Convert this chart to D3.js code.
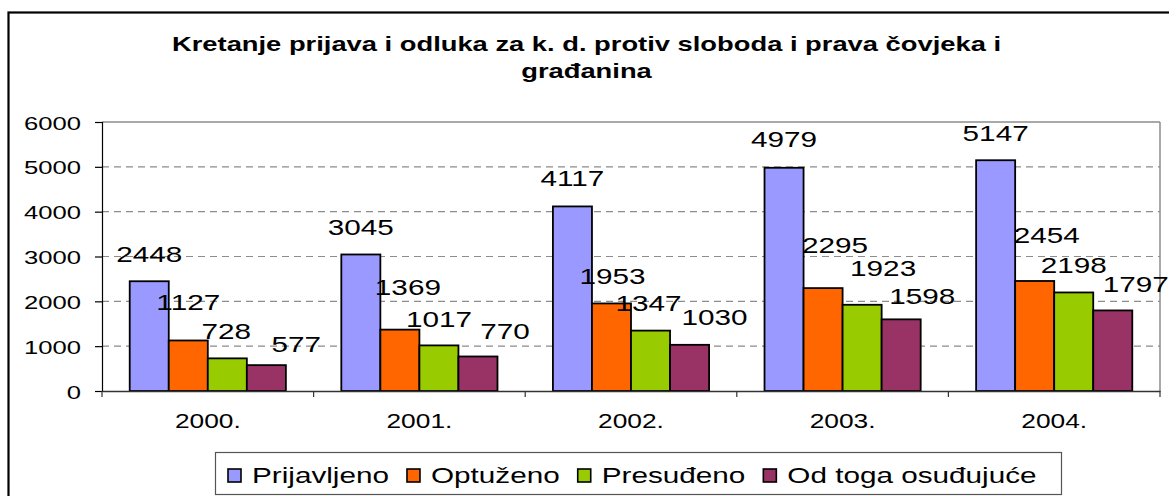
<!DOCTYPE html>
<html>
<head>
<meta charset="utf-8">
<script src="https://cdn.jsdelivr.net/npm/d3@7"></script>
<style>
  html, body { margin: 0; padding: 0; background: #fff; }
  svg { display: block; font-family: "Liberation Sans", Arial, Helvetica, sans-serif; }
</style>
</head>
<body>
<svg id="chart" width="1169" height="496"></svg>
<script>
const titleLines = ["Kretanje prijava i odluka za k. d. protiv sloboda i prava čovjeka i", "građanina"];
const categories = ["2000.", "2001.", "2002.", "2003.", "2004."];
const seriesNames = ["Prijavljeno", "Optuženo", "Presuđeno", "Od toga osuđujuće"];
const prijavljeno = [2448, 3045, 4117, 4979, 5147];
const optuzeno = [1127, 1369, 1953, 2295, 2454];
const presudeno = [728, 1017, 1347, 1923, 2198];
const osudjujuce = [577, 770, 1030, 1598, 1797];
const yTicks = [0, 1000, 2000, 3000, 4000, 5000, 6000];
const seriesColors = ["#9999FF", "#FF6600", "#99CC00", "#993366"];

// layout: manual label nudges seen in the original (per category, per series), in px
const labelDx = [[0, 0, -1, 30], [0, 8, 0, 27], [0, 1, -2, 25], [0, 12, 21, 21], [0, 12, 0, 23]];
const labelDy = [[-19, -30, -19.4, -13.4], [-19.5, -34.6, -18.7, -17], [-20.7, -19.1, -19.6, -19.8],
                 [-20.8, -35, -28.8, -15.4], [-19.5, -37.7, -19.8, -18.7]];

const seriesValues = [prijavljeno, optuzeno, presudeno, osudjujuce];
const SX = 1.35; // horizontal stretch of the original picture's text

const svg = d3.select("#chart");
const plot = { left: 102, right: 1160, top: 122, bottom: 391 };

// outer border
svg.append("rect")
  .attr("x", 8.5).attr("y", 12.5).attr("width", 1200).attr("height", 600)
  .attr("fill", "none").attr("stroke", "#000").attr("stroke-width", 2.2);

// title
titleLines.forEach((t, i) => {
  svg.append("text")
    .attr("transform", `translate(586.5,${51 + i * 27}) scale(1.367,1)`)
    .attr("text-anchor", "middle")
    .attr("font-size", 20)
    .attr("font-weight", "bold")
    .attr("fill", "#000")
    .text(t);
});

const x0 = d3.scaleBand().domain(categories).range([plot.left, plot.right]).padding(0);
const bw = x0.bandwidth();
const gpad = bw * 0.131;
const x1 = d3.scaleBand().domain(seriesNames).range([gpad, bw - gpad]).padding(0);
const y = d3.scaleLinear().domain([0, 6000]).range([plot.bottom, plot.top]);

// gridlines
svg.append("g").selectAll("line")
  .data(yTicks.filter(d => d > 0 && d < 6000))
  .join("line")
  .attr("x1", plot.left).attr("x2", plot.right)
  .attr("y1", d => y(d)).attr("y2", d => y(d))
  .attr("stroke", "#8c8c8c").attr("stroke-width", 1.2)
  .attr("stroke-dasharray", "7,5");

// plot frame top/right
svg.append("line")
  .attr("x1", plot.left).attr("x2", plot.right)
  .attr("y1", y(6000)).attr("y2", y(6000))
  .attr("stroke", "#8c8c8c").attr("stroke-width", 1.5);
svg.append("line")
  .attr("x1", plot.right).attr("x2", plot.right)
  .attr("y1", y(6000)).attr("y2", plot.bottom)
  .attr("stroke", "#8c8c8c").attr("stroke-width", 1.5);

// bars
const rows = categories.map((c, i) => ({
  cat: c, i,
  vals: seriesNames.map((s, j) => ({ s, j, i, v: seriesValues[j][i] }))
}));
const groups = svg.append("g").selectAll("g")
  .data(rows).join("g")
  .attr("transform", d => `translate(${x0(d.cat)},0)`);
groups.selectAll("rect")
  .data(d => d.vals).join("rect")
  .attr("x", d => x1(d.s))
  .attr("y", d => y(d.v))
  .attr("width", x1.bandwidth())
  .attr("height", d => y(0) - y(d.v))
  .attr("fill", d => seriesColors[d.j])
  .attr("stroke", "#000").attr("stroke-width", 1.8);

// y axis
const yAxis = svg.append("g")
  .attr("transform", `translate(${plot.left},0)`)
  .call(d3.axisLeft(y).tickValues(yTicks).tickSize(7).tickFormat(d3.format("d")));
yAxis.select(".domain").attr("stroke", "#000").attr("stroke-width", 1.2);
yAxis.selectAll(".tick line").attr("stroke", "#000").attr("stroke-width", 1.2);
yAxis.selectAll(".tick text")
  .attr("x", null).attr("dy", null)
  .attr("transform", `translate(-21,7) scale(${SX},1)`)
  .attr("font-size", 19).attr("fill", "#000")
  .attr("font-family", "Liberation Sans, Arial, sans-serif");

// x axis
const xAxis = svg.append("g")
  .attr("transform", `translate(0,${plot.bottom})`)
  .call(d3.axisBottom(x0).tickSize(0).tickPadding(0));
xAxis.select(".domain").attr("stroke", "#333").attr("stroke-width", 1.5);
xAxis.selectAll(".tick text")
  .attr("y", null).attr("dy", null)
  .attr("transform", `translate(0,37) scale(${SX},1)`)
  .attr("font-size", 19.5).attr("fill", "#000")
  .attr("font-family", "Liberation Sans, Arial, sans-serif");
// category boundary ticks
const bounds = categories.map(c => x0(c)).concat([x0(categories[categories.length - 1]) + bw]);
svg.append("g").selectAll("line")
  .data(bounds).join("line")
  .attr("x1", d => d).attr("x2", d => d)
  .attr("y1", plot.bottom).attr("y2", plot.bottom + 6)
  .attr("stroke", "#333").attr("stroke-width", 1.2);

// value labels (on top of all bars)
svg.append("g").selectAll("g")
  .data(rows).join("g")
  .attr("transform", d => `translate(${x0(d.cat)},0)`)
  .selectAll("text")
  .data(d => d.vals).join("text")
  .attr("transform", d => `translate(${x1(d.s) + x1.bandwidth() / 2 + labelDx[d.i][d.j]},${y(d.v) + labelDy[d.i][d.j]}) scale(${SX},1)`)
  .attr("text-anchor", "middle")
  .attr("font-size", 22)
  .attr("fill", "#000")
  .text(d => d.v);

// legend
const legend = svg.append("g");
legend.append("rect")
  .attr("x", 215.5).attr("y", 452.5).attr("width", 846).attr("height", 42)
  .attr("fill", "#fff").attr("stroke", "#555").attr("stroke-width", 1.2);
let lx = 228;
seriesNames.forEach((s, j) => {
  legend.append("rect")
    .attr("x", lx).attr("y", 469).attr("width", 13).attr("height", 13)
    .attr("fill", seriesColors[j]).attr("stroke", "#000").attr("stroke-width", 1.6);
  const t = legend.append("text")
    .attr("transform", `translate(${lx + 24},483) scale(${SX},1)`)
    .attr("font-size", 22)
    .attr("fill", "#000")
    .text(s);
  const w = t.node().getComputedTextLength() * SX;
  lx += 24 + w + 18;
});
</script>
</body>
</html>
